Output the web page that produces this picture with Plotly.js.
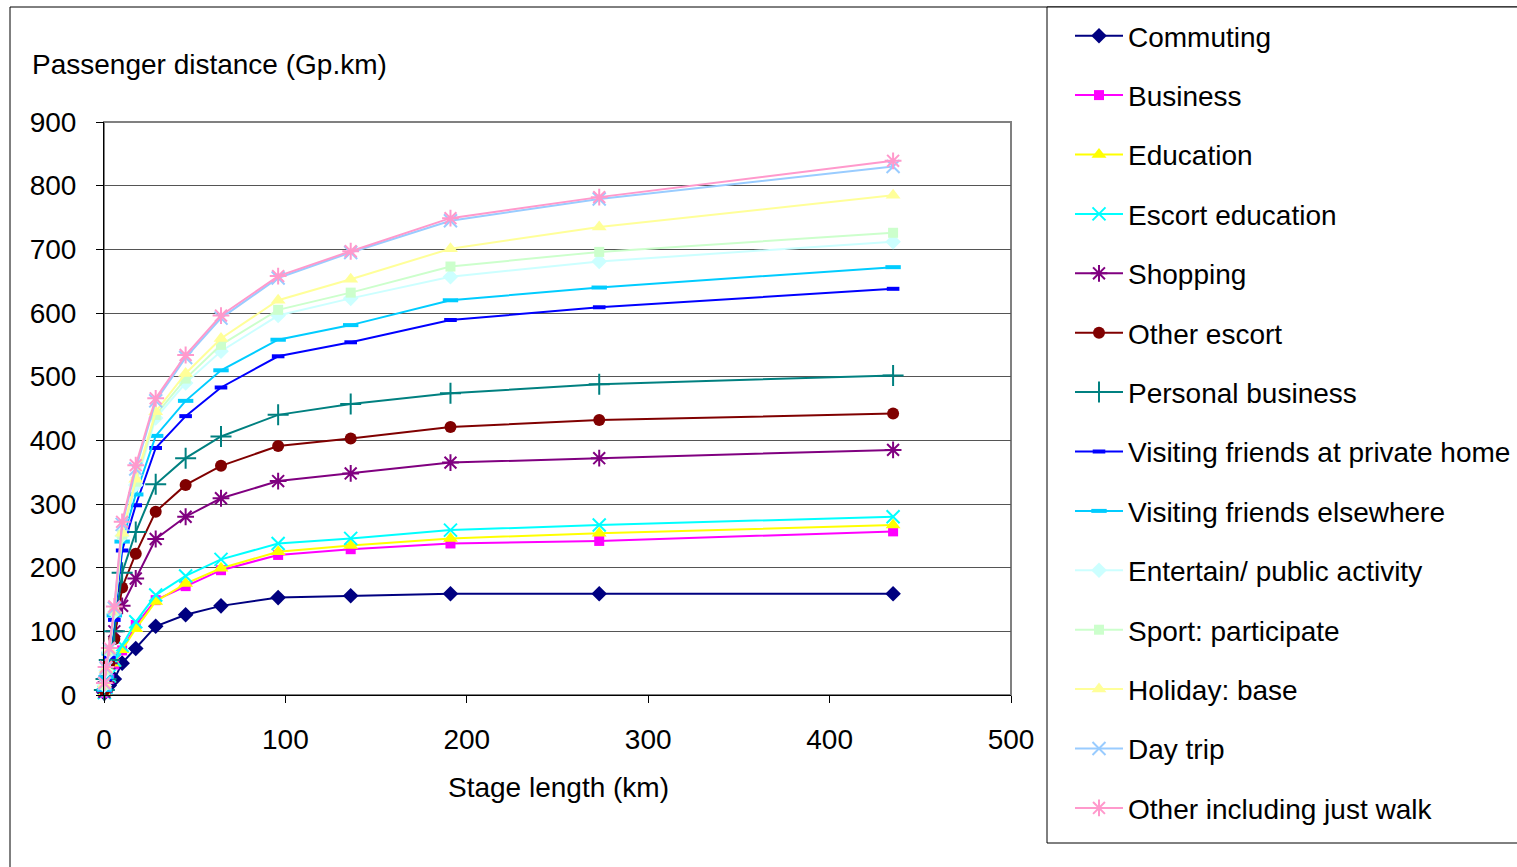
<!DOCTYPE html>
<html>
<head>
<meta charset="utf-8">
<script src="https://cdn.plot.ly/plotly-3.0.1.min.js"></script>
<style>
  html, body { margin: 0; padding: 0; background: #fff; }
  #chart { width: 1517px; height: 867px; }
</style>
</head>
<body>
<div id="chart"></div>
<script>
// Stage length (km) – x values shared by all series
const stageLength = [0.2, 1.1, 2.9, 5.7, 10, 17.5, 28.5, 45, 64.5, 96, 136, 191, 273, 435];

// Passenger distance (Gp.km) per journey purpose
const commuting         = [3, 8, 15, 25, 50, 73, 108, 126, 140, 153, 156, 159, 159, 159];
const business          = [3, 10, 25, 48, 70, 110, 149, 171, 196, 220, 229, 238, 242, 257];
const education         = [3, 10, 25, 50, 71, 104, 147, 175, 199, 225, 235, 246, 254, 267];
const escortEducation   = [4, 12, 30, 55, 78, 115, 157, 187, 213, 238, 246, 259, 267, 280];
const shopping          = [5, 20, 50, 100, 140, 183, 245, 280, 309, 336, 348, 365, 372, 385];
const otherEscort       = [8, 25, 50, 88, 169, 222, 288, 330, 360, 391, 403, 421, 432, 442];
const personalBusiness  = [8, 25, 55, 100, 192, 256, 331, 372, 406, 440, 457, 474, 488, 502];
const visitingHome      = [8, 25, 60, 118, 227, 298, 388, 438, 483, 532, 554, 589, 609, 638];
const visitingElsewhere = [8, 28, 65, 125, 241, 315, 407, 462, 510, 558, 581, 620, 640, 672];
const entertain         = [15, 38, 68, 130, 250, 330, 435, 490, 540, 596, 623, 657, 681, 712];
const sport             = [16, 40, 70, 132, 252, 335, 440, 497, 550, 605, 632, 673, 696, 726];
const holiday           = [16, 40, 70, 133, 254, 339, 445, 505, 560, 620, 653, 701, 735, 785];
const dayTrip           = [18, 42, 72, 136, 268, 355, 462, 530, 592, 655, 695, 745, 779, 830];
const otherWalk         = [19, 44, 74, 139, 272, 361, 466, 534, 596, 658, 697, 749, 782, 839];

const seriesNames = ["Commuting", "Business", "Education", "Escort education", "Shopping",
  "Other escort", "Personal business", "Visiting friends at private home",
  "Visiting friends elsewhere", "Entertain/ public activity", "Sport: participate",
  "Holiday: base", "Day trip", "Other including just walk"];
const seriesValues = [commuting, business, education, escortEducation, shopping, otherEscort,
  personalBusiness, visitingHome, visitingElsewhere, entertain, sport, holiday, dayTrip, otherWalk];

const styles = [
  {c: "#000080", s: "diamond", z: 12, lw: 0},
  {c: "#FF00FF", s: "square", z: 10, lw: 0},
  {c: "#FFFF00", s: "triangle-up", z: 13, lw: 0},
  {c: "#00FFFF", s: "x-thin-open", z: 13, lw: 2},
  {c: "#800080", s: "asterisk-open", z: 14, lw: 2},
  {c: "#800000", s: "circle", z: 12, lw: 0},
  {c: "#008080", s: "cross-thin-open", z: 15, lw: 2},
  {c: "#0000FF", s: "line-ew-open", z: 9, lw: 4},
  {c: "#00CCFF", s: "line-ew-open", z: 11, lw: 4},
  {c: "#CCFFFF", s: "diamond", z: 12, lw: 0},
  {c: "#CCFFCC", s: "square", z: 10, lw: 0},
  {c: "#FFFF99", s: "triangle-up", z: 13, lw: 0},
  {c: "#99CCFF", s: "x-thin-open", z: 13, lw: 2},
  {c: "#FF99CC", s: "asterisk-open", z: 14, lw: 2}
];

const traces = seriesNames.map((name, i) => ({
  type: "scatter",
  mode: "lines+markers",
  name: name,
  legendgroup: "g" + i,
  x: stageLength,
  y: seriesValues[i],
  line: {color: styles[i].c, width: 2},
  marker: {symbol: styles[i].s, size: styles[i].z, color: styles[i].c,
           line: {color: styles[i].c, width: styles[i].lw}},
  cliponaxis: false
}));

const W = 1517, H = 867, L = 104, R = 1011, T = 122, B = 695;
const px = v => (v - L) / (R - L);
const py = v => (B - v) / (B - T);
const FONT = "Liberation Sans, Arial, sans-serif";
const FS = 28;

const layout = {
  width: W, height: H,
  margin: {l: L, r: W - R, t: T, b: H - B, pad: 0},
  paper_bgcolor: "#ffffff",
  plot_bgcolor: "#ffffff",
  font: {family: FONT, size: FS, color: "#000"},
  showlegend: true,
  legend: {
    xref: "container", yref: "container",
    x: 1070 / W, y: 1 - 11 / H, xanchor: "left", yanchor: "top",
    bgcolor: "rgba(0,0,0,0)", borderwidth: 0,
    traceorder: "grouped", tracegroupgap: 20,
    itemwidth: 48,
    maxheight: 1,
    font: {family: FONT, size: FS, color: "#000"}
  },
  xaxis: {
    range: [0, 500], dtick: 100, tick0: 0,
    showgrid: false, zeroline: false,
    showline: true, linecolor: "#000", linewidth: 1,
    ticks: "outside", ticklen: 7, tickcolor: "#000",
    ticklabelstandoff: 12,
    tickfont: {family: FONT, size: FS, color: "#000"}
  },
  yaxis: {
    range: [0, 900], dtick: 100, tick0: 0,
    showgrid: true, gridcolor: "#555555", gridwidth: 1,
    zeroline: false,
    showline: true, linecolor: "#000", linewidth: 1,
    ticks: "outside", ticklen: 7, tickcolor: "#000",
    ticklabelstandoff: 14,
    tickfont: {family: FONT, size: FS, color: "#000"}
  },
  shapes: [
    // outer chart frame
    {type: "rect", xref: "paper", yref: "paper", layer: "below",
     x0: px(10), x1: px(1530), y0: py(880), y1: py(7),
     line: {color: "#000", width: 1}, fillcolor: "rgba(0,0,0,0)"},
    // plot area border (grey)
    {type: "rect", xref: "paper", yref: "paper", layer: "below",
     x0: 0, x1: 1, y0: 0, y1: 1,
     line: {color: "#808080", width: 2}, fillcolor: "rgba(0,0,0,0)"},
    // legend box
    {type: "rect", xref: "paper", yref: "paper", layer: "above",
     x0: px(1047), x1: px(1530), y0: py(843), y1: py(7),
     line: {color: "#000", width: 1}, fillcolor: "#ffffff"}
  ],
  annotations: [
    {text: "Passenger distance (Gp.km)", xref: "paper", yref: "paper",
     x: px(30), y: py(64), xanchor: "left", yanchor: "middle", showarrow: false,
     font: {family: FONT, size: FS, color: "#000"}},
    {text: "Stage length (km)", xref: "paper", yref: "paper",
     x: px(558), y: py(787), xanchor: "center", yanchor: "middle", showarrow: false,
     font: {family: FONT, size: FS, color: "#000"}}
  ]
};

Plotly.newPlot("chart", traces, layout, {displayModeBar: false, staticPlot: true});
</script>
</body>
</html>
